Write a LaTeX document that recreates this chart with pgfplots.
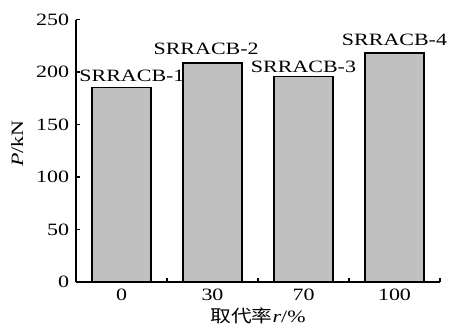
\documentclass[border=0pt]{standalone}
\usepackage{fontspec}
\setmainfont{Liberation Serif}[FakeStretch=1.27]
\newfontfamily\cjk{Noto Sans CJK SC}[FakeStretch=1.2]
\usepackage{pgfplots}
\pgfplotsset{compat=1.18}
\newcommand{\fs}{\fontsize{17.3bp}{20bp}\selectfont}
\begin{document}
\fs
\begin{tikzpicture}[every node/.style={font=\fs}]
\begin{axis}[
  scale only axis,
  width=364bp, height=262.5bp,
  xmin=-0.5, xmax=3.5,
  ymin=0, ymax=250,
  axis lines=left,
  axis line style={-, line width=1.3bp},
  ytick={0,50,100,150,200,250},
  xtick={0.5,1.5,2.5,3.5},
  xticklabels={},
  extra x ticks={0,1,2,3},
  extra x tick labels={0,30,70,100},
  extra x tick style={major tick length=0pt},
  tick align=inside,
  major tick length=4.5bp,
  tick style={line width=1.1bp, black},
  /pgf/number format/assume math mode=true,
  ticklabel style={font=\fs},
  yticklabel style={xshift=-1bp},
  xticklabel style={yshift=-1bp},
  xlabel={\fs{\cjk 取代率}\textit{r}/\%},
  ylabel={\fs\textit{P}/kN},
  label style={font=\fs},
  xlabel style={yshift=5bp},
  ylabel style={at={(ticklabel cs:0.527)}, yshift=1bp},
  clip=false,
]
\addplot[ybar, bar width=59bp, fill={rgb,255:red,192;green,192;blue,192}, draw=black, line width=1.3bp]
  coordinates {(0,185.5) (1,208.5) (2,196) (3,218)};
\node[anchor=base] at (axis cs:0.115,191.4) {SRRACB-1};
\node[anchor=base] at (axis cs:0.93,216.2) {SRRACB-2};
\node[anchor=base] at (axis cs:2.0,200) {SRRACB-3};
\node[anchor=base] at (axis cs:3.0,224.8) {SRRACB-4};
\coordinate (ll) at (rel axis cs:0,0);
\end{axis}
\pgfresetboundingbox
\path[use as bounding box] ([shift={(-76bp,-48bp)}]ll) rectangle ([shift={(376bp,282bp)}]ll);
\end{tikzpicture}
\end{document}
